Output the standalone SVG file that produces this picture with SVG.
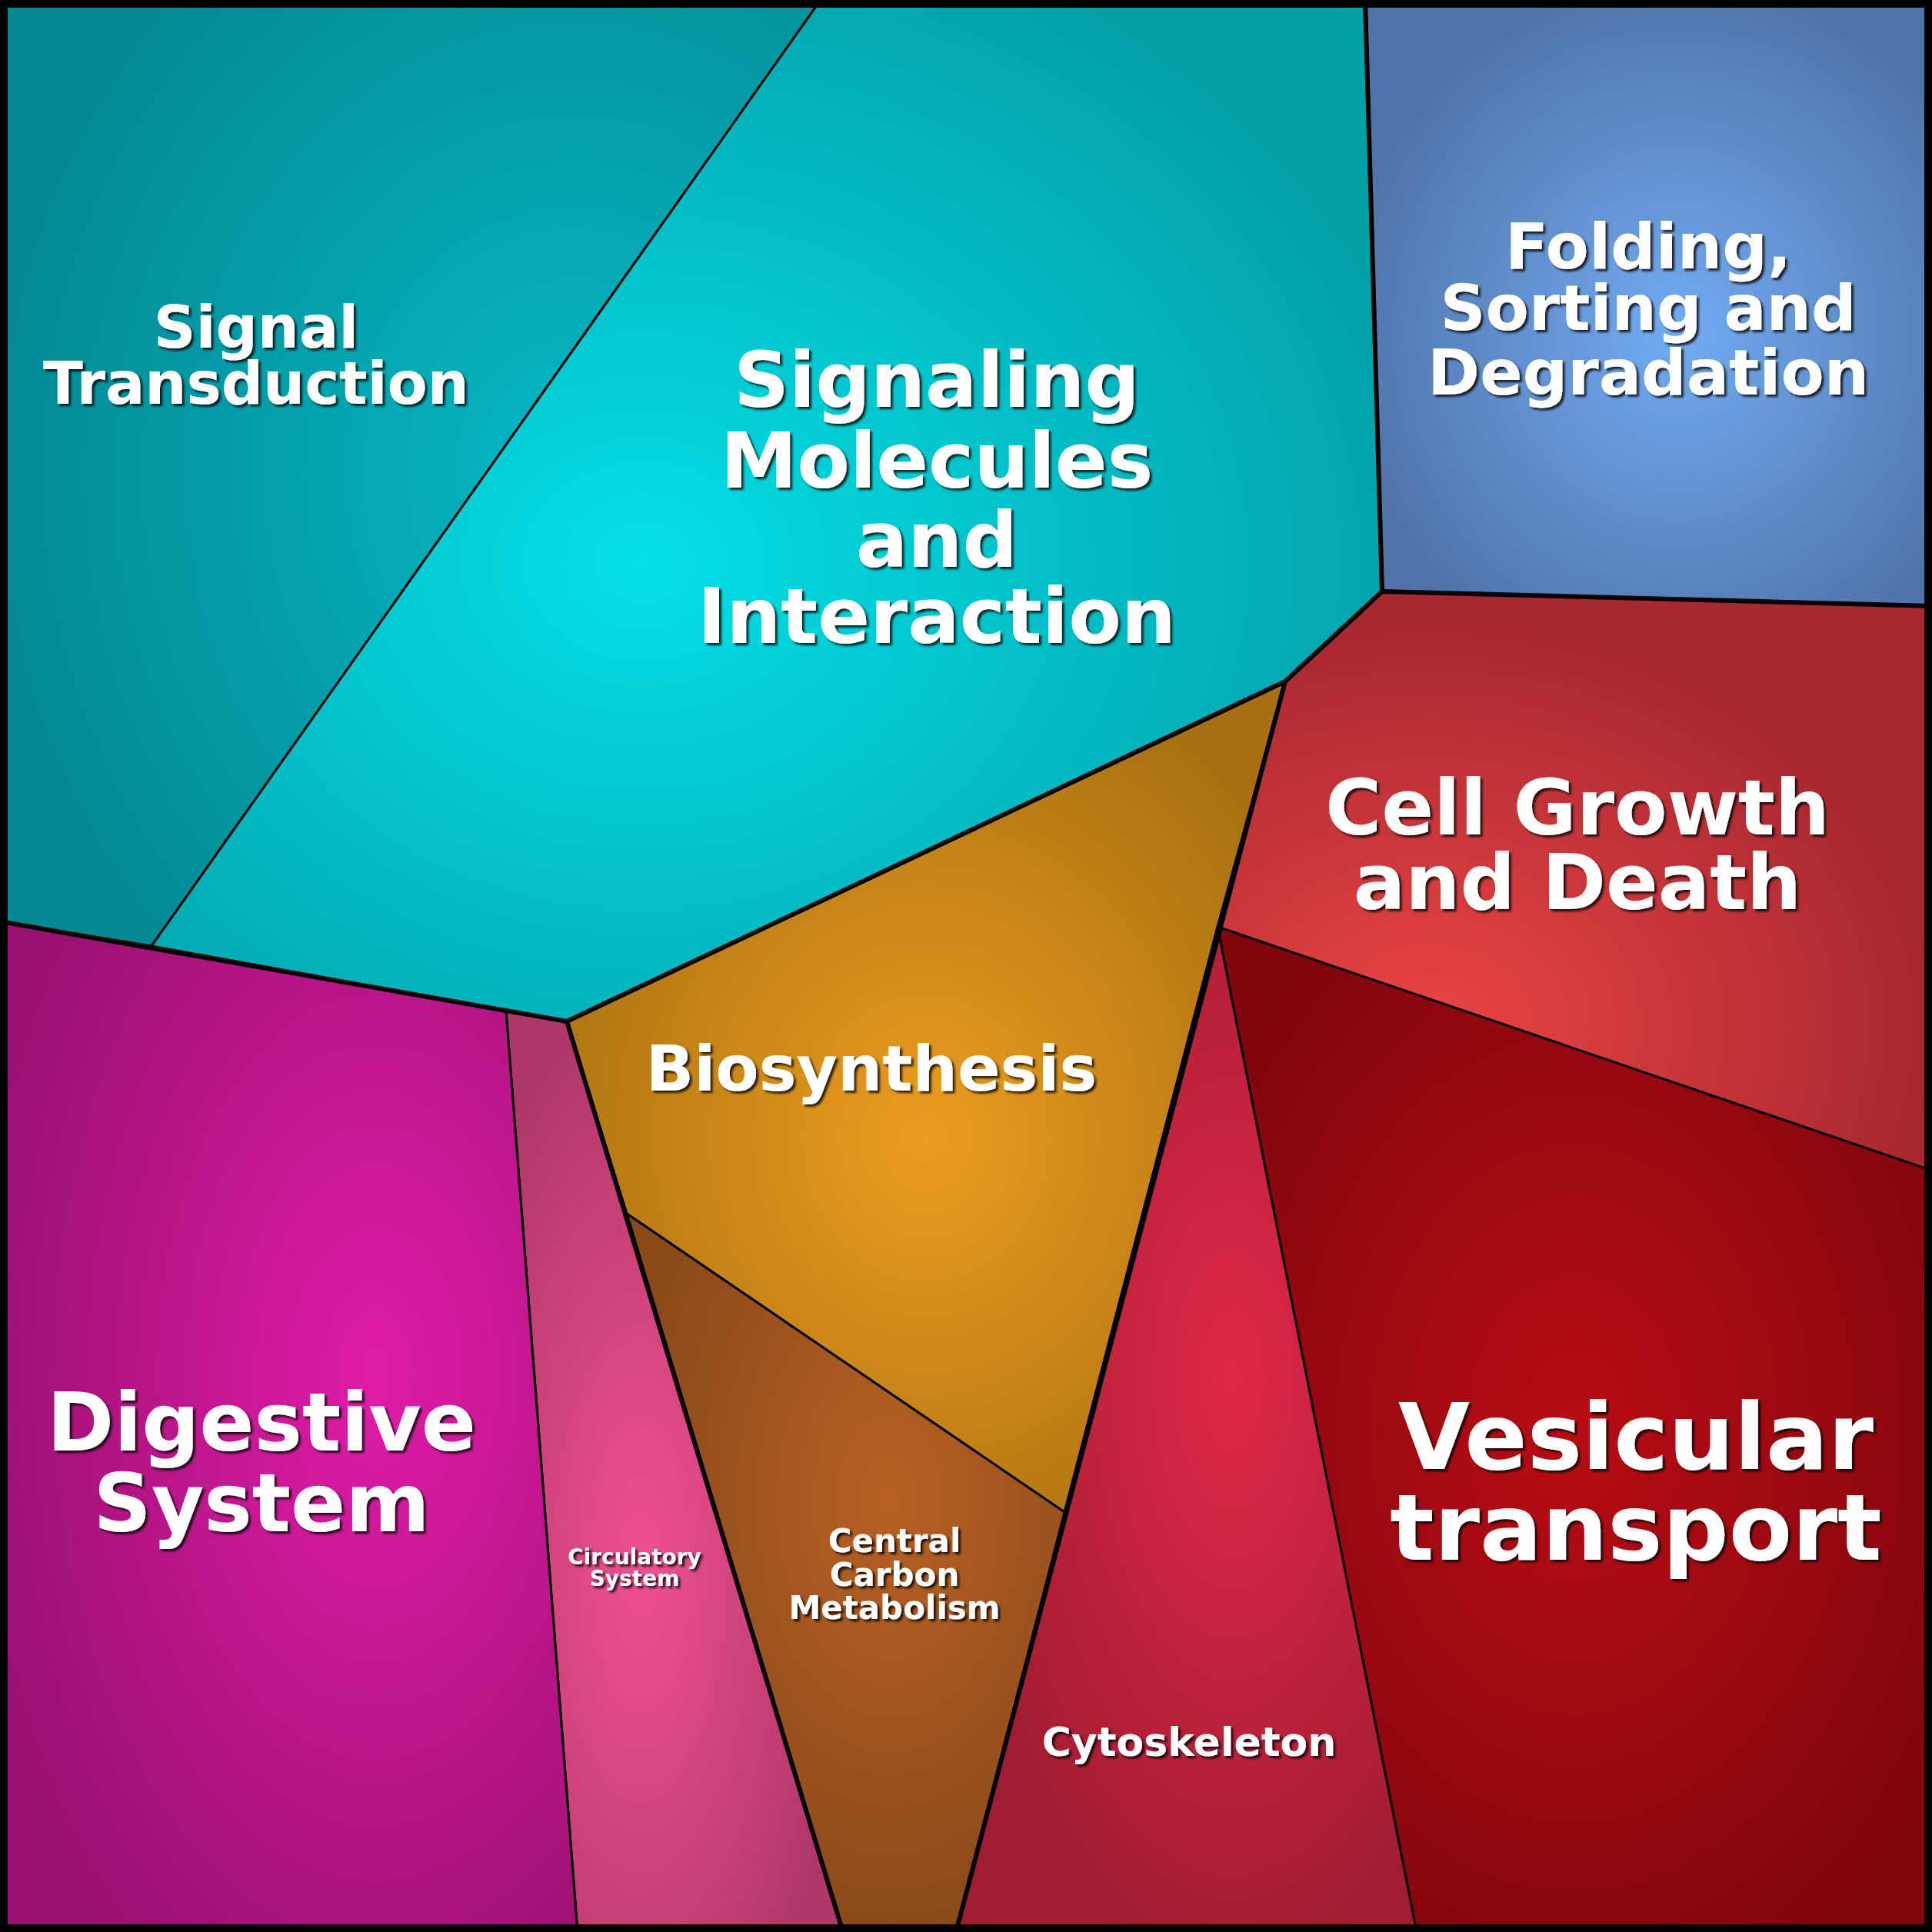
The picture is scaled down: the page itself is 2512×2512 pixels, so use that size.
<svg xmlns="http://www.w3.org/2000/svg" width="2512" height="2512" viewBox="0 0 2512 2512">
<style>
.c{stroke:#000;stroke-width:3;stroke-linejoin:round}
.t{font-family:"DejaVu Sans",sans-serif;font-weight:bold;fill:#fff;text-anchor:middle;filter:url(#sh)}
.b{fill:none;stroke:#000;stroke-width:6;stroke-linejoin:round}
</style>
<defs>
<filter id="sh" x="-10%" y="-10%" width="120%" height="130%"><feDropShadow dx="3" dy="3" stdDeviation="1.5" flood-color="#000" flood-opacity="0.8"/></filter>
<radialGradient id="g1" cx="0.7" cy="0.5" r="0.7"><stop offset="0" stop-color="#05b8c3"/><stop offset="1" stop-color="#038a95"/></radialGradient>
<radialGradient id="g2" cx="0.4" cy="0.55" r="0.65"><stop offset="0" stop-color="#05dfe8"/><stop offset="1" stop-color="#03a0a8"/></radialGradient>
<radialGradient id="g3" cx="0.55" cy="0.55" r="0.6"><stop offset="0" stop-color="#72abf2"/><stop offset="1" stop-color="#4f73a8"/></radialGradient>
<radialGradient id="g4" cx="0.3" cy="0.75" r="0.7"><stop offset="0" stop-color="#ea4444"/><stop offset="1" stop-color="#a82830"/></radialGradient>
<radialGradient id="g5" cx="0.5" cy="0.5" r="0.6"><stop offset="0" stop-color="#b80c14"/><stop offset="1" stop-color="#80060c"/></radialGradient>
<radialGradient id="g6" cx="0.6" cy="0.45" r="0.6"><stop offset="0" stop-color="#e02848"/><stop offset="1" stop-color="#a01c30"/></radialGradient>
<radialGradient id="g7" cx="0.5" cy="0.55" r="0.6"><stop offset="0" stop-color="#ec9c20"/><stop offset="1" stop-color="#a87010"/></radialGradient>
<radialGradient id="g8" cx="0.6" cy="0.4" r="0.6"><stop offset="0" stop-color="#b86025"/><stop offset="1" stop-color="#8a4a18"/></radialGradient>
<radialGradient id="g9" cx="0.4" cy="0.6" r="0.6"><stop offset="0" stop-color="#f05090"/><stop offset="1" stop-color="#b03868"/></radialGradient>
<radialGradient id="g10" cx="0.65" cy="0.45" r="0.7"><stop offset="0" stop-color="#e01ca8"/><stop offset="1" stop-color="#9a1070"/></radialGradient>
</defs>
<g id="signal-transduction"><polygon class="c" fill="url(#g1)" points="0,0 1067,0 197,1230 0,1198"/>
<text class="t" font-size="76" x="333"><tspan x="333" y="452">Signal</tspan><tspan x="333" y="525">Transduction</tspan></text></g>
<g id="signaling-molecules"><polygon class="c" fill="url(#g2)" points="1067,0 1775,0 1797,769 1671,886 737,1328 197,1230"/>
<text class="t" font-size="100"><tspan x="1218" y="529">Signaling</tspan><tspan x="1218" y="634">Molecules</tspan><tspan x="1218" y="737">and</tspan><tspan x="1218" y="836">Interaction</tspan></text></g>
<g id="folding"><polygon class="c" fill="url(#g3)" points="1775,0 2512,0 2512,788 1797,769"/>
<text class="t" font-size="82"><tspan x="2143" y="349">Folding,</tspan><tspan x="2143" y="429">Sorting and</tspan><tspan x="2143" y="513">Degradation</tspan></text></g>
<g id="cell-growth"><polygon class="c" fill="url(#g4)" points="1797,769 2512,788 2512,1522 1583,1205 1671,886"/>
<text class="t" font-size="100"><tspan x="2051" y="1085">Cell Growth</tspan><tspan x="2051" y="1182">and Death</tspan></text></g>
<g id="vesicular"><polygon class="c" fill="url(#g5)" points="1583,1205 2512,1522 2512,2512 1842,2512"/>
<text class="t" font-size="120"><tspan x="2127" y="1910">Vesicular</tspan><tspan x="2127" y="2028">transport</tspan></text></g>
<g id="cytoskeleton"><polygon class="c" fill="url(#g6)" points="1583,1205 1842,2512 1243,2512 1384,1966"/>
<text class="t" font-size="52" x="1546" y="2283">Cytoskeleton</text></g>
<g id="biosynthesis"><polygon class="c" fill="url(#g7)" points="737,1328 1671,886 1583,1205 1384,1966 815,1578"/>
<text class="t" font-size="82" x="1133" y="1418">Biosynthesis</text></g>
<g id="central-carbon"><polygon class="c" fill="url(#g8)" points="815,1578 1384,1966 1243,2512 1096,2512"/>
<text class="t" font-size="42"><tspan x="1163" y="2018">Central</tspan><tspan x="1163" y="2062">Carbon</tspan><tspan x="1163" y="2105">Metabolism</tspan></text></g>
<g id="circulatory"><polygon class="c" fill="url(#g9)" points="658,1315 737,1328 1096,2512 751,2512"/>
<text class="t" font-size="28"><tspan x="825" y="2034">Circulatory</tspan><tspan x="825" y="2062">System</tspan></text></g>
<g id="digestive"><polygon class="c" fill="url(#g10)" points="0,1198 658,1315 751,2512 0,2512"/>
<text class="t" font-size="105"><tspan x="340" y="1886">Digestive</tspan><tspan x="340" y="1991">System</tspan></text></g>
<g id="connectors">
<polyline class="b" points="0,1198 737,1328 1671,886 1797,769 2512,788"/>
<line class="b" x1="1797" y1="769" x2="1775" y2="0"/>
<polyline class="b" points="737,1328 1096,2512"/>
<polyline class="b" points="1671,886 1243,2512"/>
<rect x="5" y="5" width="2502" height="2502" fill="none" stroke="#000" stroke-width="10"/>
</g>
</svg>
